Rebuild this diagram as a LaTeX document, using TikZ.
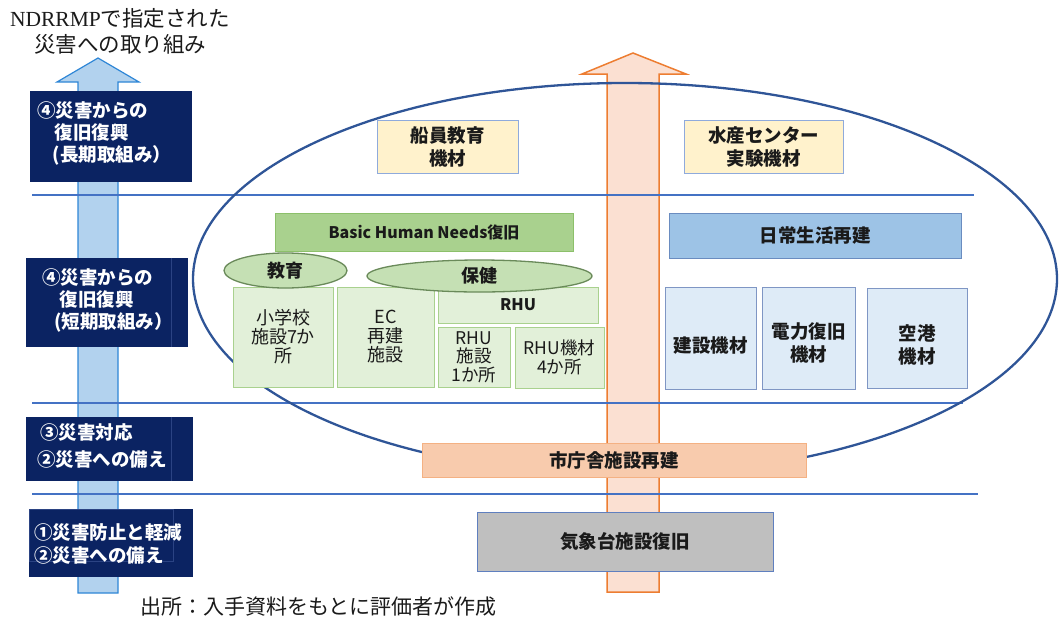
\documentclass[tikz,border=0pt]{standalone}
\usepackage{fontspec}
\setmainfont{Noto Sans CJK JP}
\newfontfamily\serifl{Liberation Serif}
\usetikzlibrary{shapes.geometric}
\definecolor{navy}{HTML}{0B2362}
\definecolor{navyline}{HTML}{2B4383}
\definecolor{lineblue}{HTML}{4472C4}
\definecolor{ellblue}{HTML}{2F5597}
\definecolor{arrowbluefill}{HTML}{B2D2EE}
\definecolor{arrowblueline}{HTML}{2E86D6}
\definecolor{orangefill}{HTML}{FBE0D2}
\definecolor{orangeline}{HTML}{ED7D31}
\definecolor{creamfill}{HTML}{FFF2CC}
\definecolor{creamline}{HTML}{8FAADC}
\definecolor{bhnfill}{HTML}{A9D18E}
\definecolor{bhnline}{HTML}{8CC06A}
\definecolor{lgfill}{HTML}{E2F0D9}
\definecolor{lgline}{HTML}{A9D18E}
\definecolor{ellgfill}{HTML}{C5E0B4}
\definecolor{ellgline}{HTML}{6A8A5A}
\definecolor{dailyfill}{HTML}{9DC3E6}
\definecolor{dailyline}{HTML}{6A8CC0}
\definecolor{eqfill}{HTML}{DEEBF7}
\definecolor{eqline}{HTML}{7F96C4}
\definecolor{cityfill}{HTML}{F8CBAD}
\definecolor{cityline}{HTML}{F4B183}
\definecolor{grayfill}{HTML}{BFBFBF}
\definecolor{grayline}{HTML}{5F7FBF}
\definecolor{txt}{HTML}{1A1A1A}
\tikzset{
  box/.style={draw, rectangle, inner sep=0pt, align=center, text=txt, line width=1pt},
  bbold/.style={font=\fontsize{18.5}{23}\selectfont\bfseries},
  breg/.style={font=\fontsize{18}{19}\selectfont},
  navybox/.style={rectangle, fill=navy, draw=none, inner sep=0pt},
  navytext/.style={text=white, align=left, inner sep=0pt, anchor=west},
  hline/.style={draw=lineblue, line width=2pt},
  ovalbox/.style={ellipse, draw=ellgline, fill=ellgfill, line width=1.3pt, inner sep=0pt, text=txt, font=\fontsize{18}{20}\selectfont\bfseries},
}
\begin{document}
\begin{tikzpicture}[x=1pt,y=-1pt]
\useasboundingbox (0,0) rectangle (1060,619);
% title
\node[align=center, inner sep=0pt, text=txt, font=\fontsize{21.5}{26}\selectfont] (title) at (120,31) {{\serifl NDRRMP}で指定された\\災害への取り組み};
% block arrows
\draw[fill=arrowbluefill, draw=arrowblueline, line width=1.2pt]
  (78,593) -- (78,82) -- (57,82) -- (98,58) -- (139,82) -- (118,82) -- (118,593) -- cycle;
\draw[fill=orangefill, draw=orangeline, line width=1.5pt]
  (607,592) -- (607,74) -- (582,74) -- (633,53) -- (686,74) -- (659,74) -- (659,592) -- cycle;
% horizontal lines
\coordinate (la1) at (32,195); \coordinate (la2) at (974,195);
\coordinate (lb1) at (32,403); \coordinate (lb2) at (963,403);
\coordinate (lc1) at (32,494); \coordinate (lc2) at (978,494);
\draw[hline] (la1) -- (la2);
\draw[hline] (lb1) -- (lb2);
\draw[hline] (lc1) -- (lc2);
% big ellipse
\draw[ellblue, line width=2.3pt] (625,279) ellipse [x radius=432, y radius=196];
% top boxes
\node[box, bbold, fill=creamfill, draw=creamline, minimum width=141, minimum height=53] (senin) at (447.5,146.5) {船員教育\\機材};
\node[box, bbold, fill=creamfill, draw=creamline, minimum width=159, minimum height=53] (suisan) at (763.5,146.5) {水産センター\\実験機材};
% BHN
\node[box, font=\fontsize{16}{18}\selectfont\bfseries, fill=bhnfill, draw=bhnline, minimum width=298, minimum height=38] (bhn) at (424,232) {Basic Human Needs復旧};
\node[box, breg, fill=lgfill, draw=lgline, minimum width=100, minimum height=100] (shogakko) at (283,337) {小学校\\施設7か\\所};
\node[box, breg, fill=lgfill, draw=lgline, minimum width=97, minimum height=100] (ec) at (385.5,337) {EC\\再建\\施設};
\node[box, font=\fontsize{16}{18}\selectfont\bfseries, fill=lgfill, draw=lgline, minimum width=160, minimum height=36] (rhu) at (518,305) {RHU};
\node[box, font=\fontsize{17.5}{18.5}\selectfont, fill=lgfill, draw=lgline, minimum width=72, minimum height=60] (rhufac) at (474,357) {RHU\\施設\\1か所};
\node[box, font=\fontsize{17.5}{18.5}\selectfont, fill=lgfill, draw=lgline, minimum width=89, minimum height=61] (rhueq) at (559.5,357.5) {RHU機材\\4か所};
\node[ovalbox, minimum width=123, minimum height=35] (kyoiku) at (285.5,270.5) {教育};
\node[ovalbox, minimum width=225, minimum height=32] (hoken) at (479.5,276) {保健};
% daily life
\node[box, bbold, fill=dailyfill, draw=dailyline, minimum width=292, minimum height=45] (daily) at (815,235.5) {日常生活再建};
\node[box, bbold, fill=eqfill, draw=eqline, minimum width=91, minimum height=102] (kensetsu) at (710.5,338) {};
\node[text=txt, bbold, inner sep=0pt] (kensetsut) at (710.5,346) {建設機材};
\node[box, bbold, fill=eqfill, draw=eqline, minimum width=93, minimum height=102] (denryoku) at (808.5,338) {};
\node[text=txt, bbold, align=center, inner sep=0pt] (denryokut) at (808.5,343) {電力復旧\\機材};
\node[box, bbold, fill=eqfill, draw=eqline, minimum width=100, minimum height=100] (kuko) at (917,338) {};
\node[text=txt, bbold, align=center, inner sep=0pt] (kukot) at (917,345) {空港\\機材};
% city hall & weather
\node[box, bbold, fill=cityfill, draw=cityline, minimum width=384, minimum height=34] (city) at (614,460) {市庁舎施設再建};
\node[box, bbold, fill=grayfill, draw=grayline, minimum width=296, minimum height=59] (kisho) at (625,541.5) {気象台施設復旧};
% navy boxes
\node[navybox, minimum width=162, minimum height=91] (n1) at (111,136.5) {};
\node[navytext, font=\fontsize{18.5}{22}\selectfont\bfseries] (n1t) at (37,133) {④災害からの\\\hspace*{0.95em}復旧復興\\\hspace*{0.85em}(長期取組み）};
\node[navybox, minimum width=162, minimum height=89] (n2) at (107,302.5) {};
\draw[navyline, line width=0.8pt] (n2.north west) ++(146,0) coordinate (n2a) -- (n2a |- n2.south);
\node[navytext, font=\fontsize{18.5}{22}\selectfont\bfseries] (n2t) at (42,300) {④災害からの\\\hspace*{0.95em}復旧復興\\\hspace*{0.65em}(短期取組み）};
\node[navybox, minimum width=167, minimum height=64] (n3) at (109.5,449) {};
\draw[navyline, line width=0.8pt] (n3.north west) ++(146,0) coordinate (n3a) -- (n3a |- n3.south);
\node[navytext, font=\fontsize{18.5}{27}\selectfont\bfseries] (n3t) at (37,446.5) {\hspace*{3pt}③災害対応\\②災害への備え};
\node[navybox, minimum width=164, minimum height=68] (n4) at (111,543) {};
\draw[navyline, line width=0.8pt] (29,509) rectangle (173,561);
\node[navytext, font=\fontsize{18.5}{23}\selectfont\bfseries] (n4t) at (34,543.5) {①災害防止と軽減\\②災害への備え};
% footer
\node[anchor=west, inner sep=0pt, text=txt, font=\fontsize{21}{24}\selectfont] (src) at (140,607) {出所：入手資料をもとに評価者が作成};
\end{tikzpicture}
\end{document}
